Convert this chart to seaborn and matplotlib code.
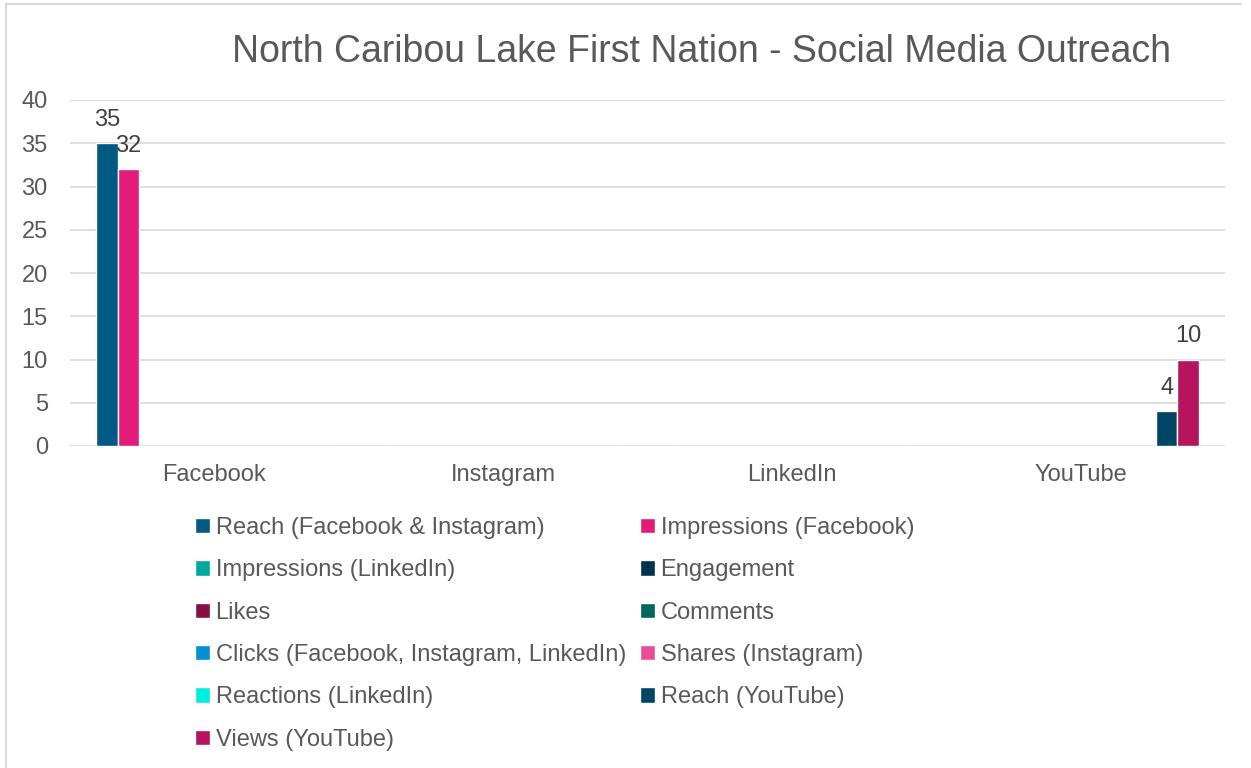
import numpy as np
import pandas as pd
import seaborn as sns
import matplotlib.pyplot as plt
from matplotlib.lines import Line2D

platforms = ["Facebook", "Instagram", "LinkedIn", "YouTube"]
metrics = ["Reach (Facebook & Instagram)", "Impressions (Facebook)",
           "Impressions (LinkedIn)", "Engagement", "Likes", "Comments",
           "Clicks (Facebook, Instagram, LinkedIn)", "Shares (Instagram)",
           "Reactions (LinkedIn)", "Reach (YouTube)", "Views (YouTube)"]
# values per metric, one per platform
reach_fb_ig = [35, 0, 0, 0]
impr_fb = [32, 0, 0, 0]
impr_li = [0, 0, 0, 0]
engagement = [0, 0, 0, 0]
likes = [0, 0, 0, 0]
comments = [0, 0, 0, 0]
clicks = [0, 0, 0, 0]
shares_ig = [0, 0, 0, 0]
reactions_li = [0, 0, 0, 0]
reach_yt = [0, 0, 0, 4]
views_yt = [0, 0, 0, 10]
colors = ["#005A84", "#E31C79", "#00A99D", "#003250", "#850F46", "#00675E",
          "#0090D4", "#E84C97", "#00EEDD", "#004566", "#B5155F"]

series = [reach_fb_ig, impr_fb, impr_li, engagement, likes, comments,
          clicks, shares_ig, reactions_li, reach_yt, views_yt]
rows = []
for m, vals in zip(metrics, series):
    for p, v in zip(platforms, vals):
        rows.append({"platform": p, "metric": m, "value": v})
df = pd.DataFrame(rows)

sns.set_style("white")
plt.rcParams['font.family'] = ['Liberation Sans', 'DejaVu Sans']
txt = "#595959"

fig = plt.figure(figsize=(12.51, 7.68), dpi=100)
ax = fig.add_axes([70 / 1251, 1 - 446 / 768, 1155 / 1251, 346 / 768])
sns.barplot(data=df, x="platform", y="value", hue="metric", order=platforms,
            hue_order=metrics, palette=colors, saturation=1, width=0.82,
            errorbar=None, ax=ax)

for cont in ax.containers:
    labs = ["%d" % b.get_height() if b.get_height() > 0 else "" for b in cont]
    ax.bar_label(cont, labels=labs, padding=9, fontsize=17, color="#404040")

ax.set_ylim(0, 40)
ax.set_xlim(-0.5, 3.5)
ax.set_yticks(range(0, 41, 5))
ax.set_xlabel("")
ax.set_ylabel("")
ax.yaxis.grid(True, color="#D9D9D9", lw=1.2)
ax.set_axisbelow(True)
for s in ax.spines.values():
    s.set_visible(False)
ax.tick_params(axis="y", length=0, pad=16, labelsize=17, labelcolor=txt)
ax.tick_params(axis="x", length=0, pad=13, labelsize=17, labelcolor=txt)

handles, labels = ax.get_legend_handles_labels()
ax.get_legend().remove()
order = [0, 2, 4, 6, 8, 10, 1, 3, 5, 7, 9]
leg = fig.legend([handles[i] for i in order], [labels[i] for i in order],
                 ncol=2, frameon=False, loc="upper left",
                 bbox_to_anchor=(195 / 1251, 1 - 517 / 768),
                 fontsize=17, handlelength=0.62, handleheight=0.62,
                 handletextpad=0.25, columnspacing=0.6, labelspacing=0.86,
                 borderpad=0, borderaxespad=0)
for t in leg.get_texts():
    t.set_color(txt)

fig.text(701 / 1251, 1 - 52 / 768,
         "North Caribou Lake First Nation - Social Media Outreach",
         ha="center", va="center", fontsize=27, color=txt)

# chart border
fig.add_artist(Line2D([5.5 / 1251, 5.5 / 1251], [0, 1 - 4 / 768],
                      transform=fig.transFigure, color="#D9D9D9", lw=1.5))
fig.add_artist(Line2D([5.5 / 1251, 1241 / 1251], [1 - 4 / 768, 1 - 4 / 768],
                      transform=fig.transFigure, color="#D9D9D9", lw=1.5))

fig.savefig("out.png", dpi=100, facecolor="white")
